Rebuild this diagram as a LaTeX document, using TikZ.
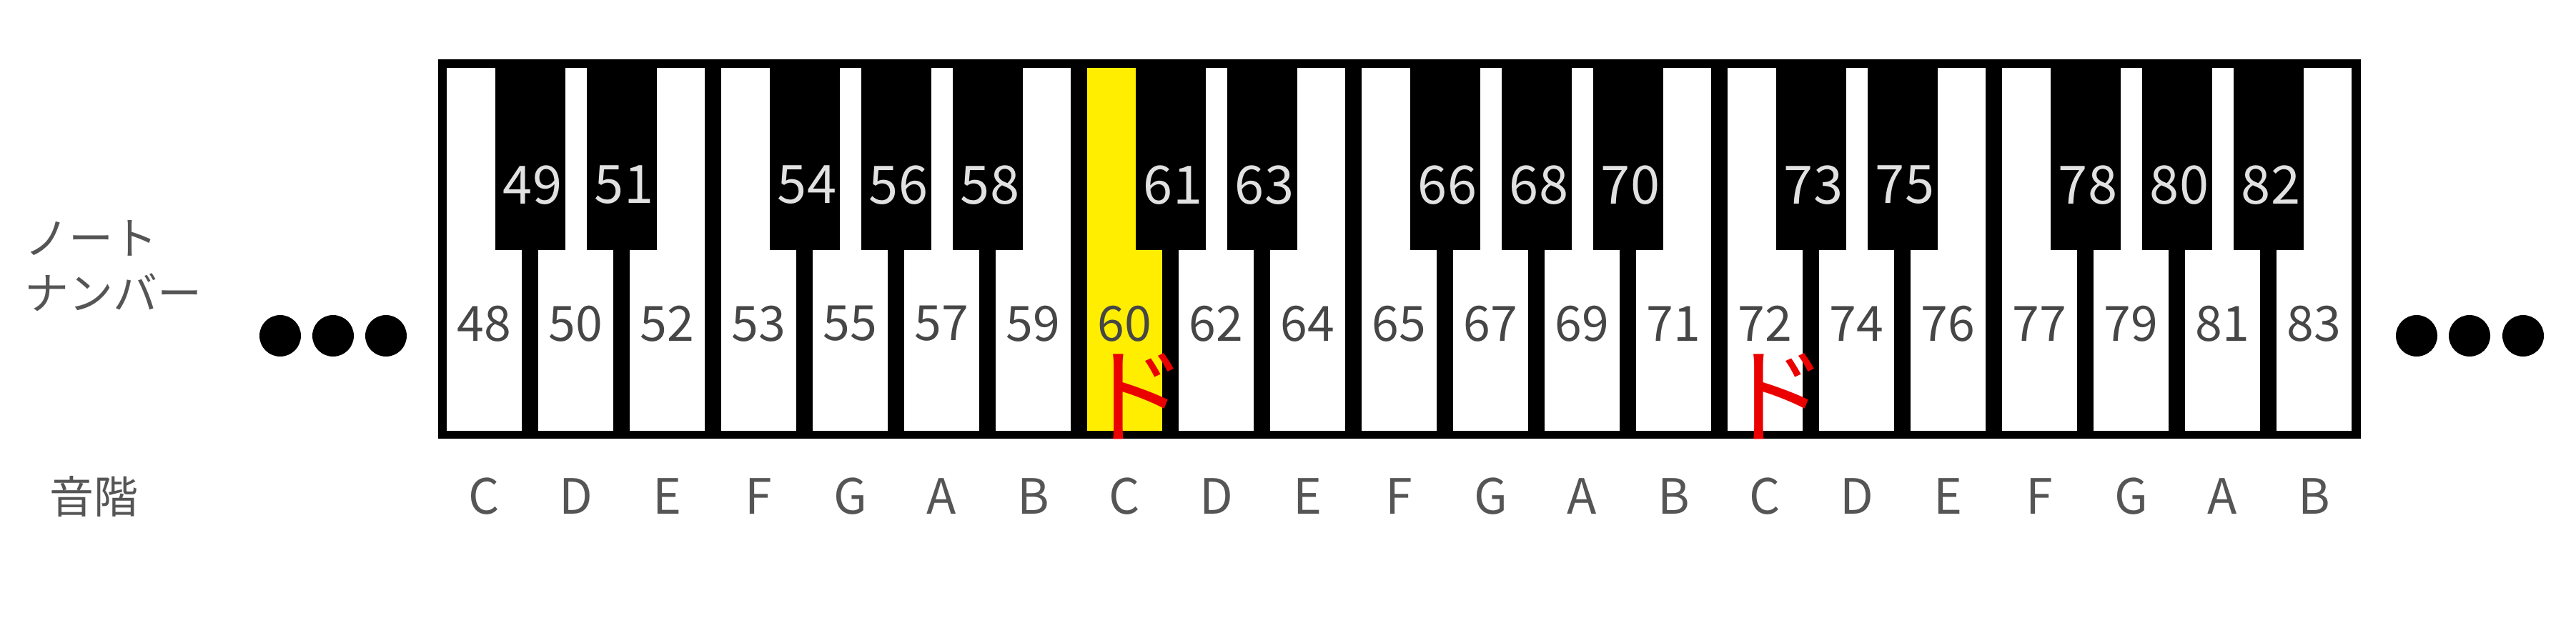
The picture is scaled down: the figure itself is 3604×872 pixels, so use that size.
\documentclass[tikz,border=0pt]{standalone}
\usepackage{fontspec}
\setmainfont{Noto Sans CJK JP}
\definecolor{labelgray}{RGB}{85,85,85}
\definecolor{numgray}{RGB}{70,70,70}
\definecolor{blacknumgray}{RGB}{225,225,225}
\definecolor{keyyellow}{RGB}{255,238,0}
\definecolor{dored}{RGB}{235,0,0}
\tikzset{
  wnum/.style={inner sep=0pt, text=numgray, font=\fontsize{34}{34}\selectfont},
  bnum/.style={inner sep=0pt, text=blacknumgray, font=\fontsize{37}{37}\selectfont},
  notename/.style={inner sep=0pt, text=labelgray, font=\fontsize{34}{34}\selectfont},
  jplabel/.style={inner sep=0pt, anchor=west, text=labelgray, font=\fontsize{31}{31}\selectfont},
  domark/.style={inner sep=0pt, text=dored, font=\fontsize{74}{74}\selectfont}
}
\begin{document}
\begin{tikzpicture}[x=0.5pt,y=-0.5pt]
\useasboundingbox (0,0) rectangle (3604,872);
% frame and white keys
\fill (613,83) rectangle (3303,614);
\foreach \i in {0,...,20}
  \fill[white] ({625+128*\i},95) rectangle ({730+128*\i},603);
\fill[keyyellow] (1521,95) rectangle (1626,603);
% black keys
\foreach \i/\n in {0/49,1/51,3/54,4/56,5/58,7/61,8/63,10/66,11/68,12/70,14/73,15/75,17/78,18/80,19/82}{
  \fill ({692.5+128*\i},95) rectangle ({790.5+128*\i},350);
  \node[bnum] (b\n) at ({745+128*\i},259) {\n};
}
% white key numbers and note names
\foreach \n/\l [count=\i from 0] in {48/C,50/D,52/E,53/F,55/G,57/A,59/B,60/C,62/D,64/E,65/F,67/G,69/A,71/B,72/C,74/D,76/E,77/F,79/G,81/A,83/B}{
  \node[wnum] (w\n) at ({677.5+128*\i},453) {\n};
  \node[notename] (s\n) at ({677.5+128*\i},695) {\l};
}
\node[domark] (do60) at (1587,555) {ド};
\node[domark] (do72) at (2483,555) {ド};
% labels on the left
\node[jplabel] (notelabel) at (34,333) {ノート};
\node[jplabel] (numberlabel) at (34,409) {ナンバー};
\node[jplabel] (scalelabel) at (69,695) {音階};
% dots
\foreach \x in {392,466,540,3381,3455,3530}
  \fill (\x,470) circle[radius=14.5pt];
\end{tikzpicture}
\end{document}
